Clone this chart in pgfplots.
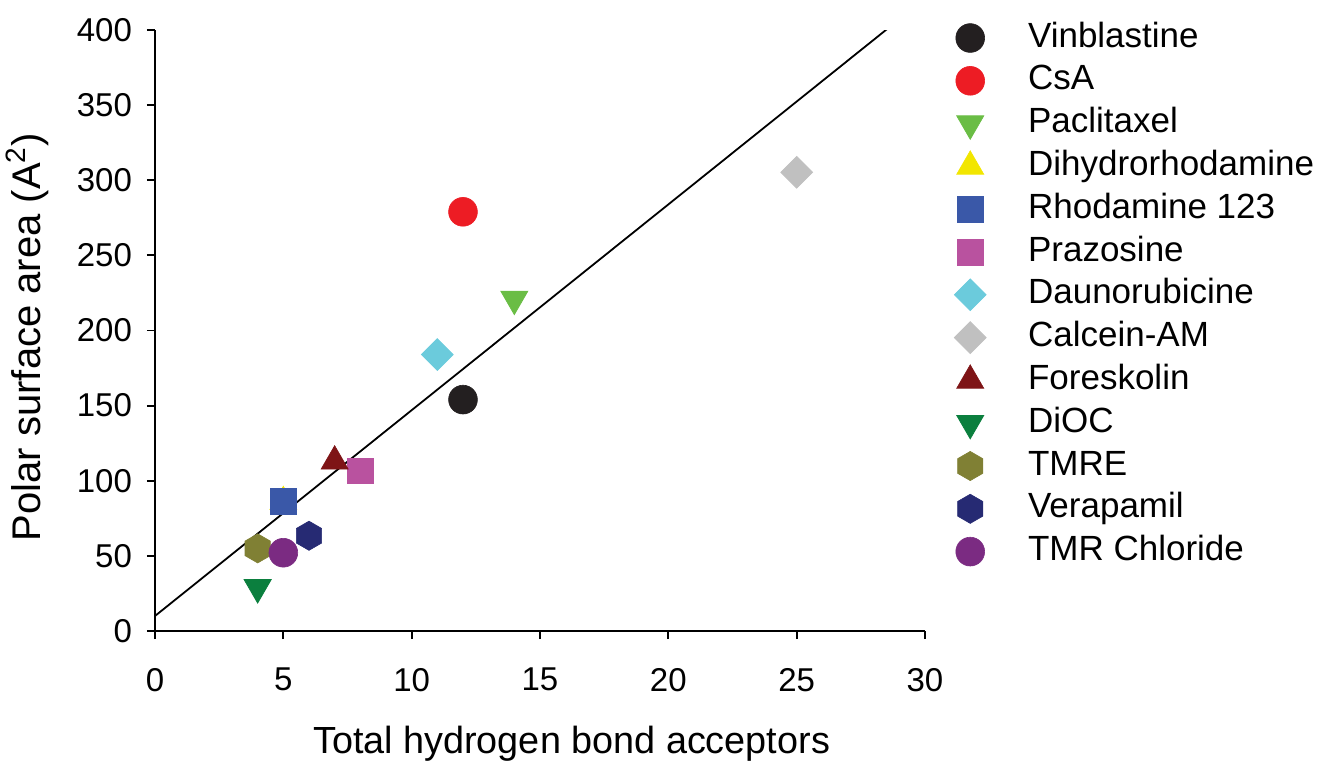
\documentclass[border=0pt]{standalone}
\usepackage{fontspec}
\setmainfont{Liberation Sans}
\usepackage{pgfplots}
\pgfplotsset{compat=1.18}
\usetikzlibrary{plotmarks}

% pointy-top hexagon mark
\pgfdeclareplotmark{hexagon*}{%
  \pgfpathmoveto{\pgfpointpolar{90}{\pgfplotmarksize}}%
  \pgfpathlineto{\pgfpointpolar{150}{\pgfplotmarksize}}%
  \pgfpathlineto{\pgfpointpolar{210}{\pgfplotmarksize}}%
  \pgfpathlineto{\pgfpointpolar{270}{\pgfplotmarksize}}%
  \pgfpathlineto{\pgfpointpolar{330}{\pgfplotmarksize}}%
  \pgfpathlineto{\pgfpointpolar{30}{\pgfplotmarksize}}%
  \pgfpathclose
  \pgfusepathqfillstroke}

\definecolor{cVin}{HTML}{231F20}
\definecolor{cCsA}{HTML}{ED1C24}
\definecolor{cPac}{HTML}{6ABD45}
\definecolor{cDih}{HTML}{F2E600}
\definecolor{cRho}{HTML}{3A58A8}
\definecolor{cPra}{HTML}{B9529F}
\definecolor{cDau}{HTML}{6BCBDC}
\definecolor{cCal}{HTML}{C0C0C0}
\definecolor{cFor}{HTML}{7E1416}
\definecolor{cDiO}{HTML}{0B7F3E}
\definecolor{cTMRE}{HTML}{808034}
\definecolor{cVer}{HTML}{262A73}
\definecolor{cTMR}{HTML}{7B2B82}

\pgfplotsset{
  myleg/.style={legend image code/.code={%
    \draw[mark repeat=2,mark phase=2,##1] plot coordinates {(0pt,0pt)(12pt,0pt)(24pt,0pt)};}},
  pt/.style 2 args={only marks, myleg, mark=#1, color=#2,
    mark options={solid, fill=#2, draw=#2, line width=0.3pt, rounded corners=1.2pt}},
}

\begin{document}
\begin{tikzpicture}
\path[use as bounding box] (-77.5pt,-65.5pt) rectangle (582pt,315.5pt);
\begin{axis}[
  at={(0pt,0pt)}, anchor=south west,
  width=385pt, height=300.5pt, scale only axis,
  xmin=0, xmax=30, ymin=0, ymax=400,
  axis lines=left,
  axis line style={-, line width=0.9pt},
  xtick={0,5,...,30}, ytick={0,50,...,400},
  tick align=outside, major tick length=4pt,
  tick style={black, line width=0.9pt},
  /pgf/number format/assume math mode=true,
  ticklabel style={font=\fontsize{16.5}{19}\selectfont},
  xticklabel style={yshift=-11pt},
  yticklabel style={xshift=-4pt},
  xlabel={Total hydrogen bond acceptors},
  ylabel={Polar surface area (A\textsuperscript{2})},
  xlabel style={font=\fontsize{18.9}{22}\selectfont, at={(axis description cs:0.541,-0.188)}, anchor=center},
  ylabel style={font=\fontsize{20}{24}\selectfont, at={(axis description cs:-0.166,0.489)}, anchor=center},
  legend style={at={(axis description cs:1,1)}, anchor=north west,
    xshift=14.5pt, yshift=4.7pt, draw=none, fill=none, inner sep=0pt,
    row sep=4.4pt, column sep=21pt,
    font=\fontsize{17.5}{21}\selectfont,
    nodes={inner sep=0pt, text height=13pt, text depth=4pt}},
  legend cell align=left,
]
\addplot[black, line width=0.9pt, forget plot] coordinates {(0,10) (28.55,401)};

\addplot[pt={*}{cVin}, mark size=7.2pt] coordinates {(12,154)};
\addlegendentry{Vinblastine}
\addplot[pt={*}{cCsA}, mark size=7.2pt] coordinates {(12,279)};
\addlegendentry{CsA}
\addplot[pt={triangle*}{cPac}, mark size=7.8pt, mark options={rotate=180}] coordinates {(14,221)};
\addlegendentry{Paclitaxel}
\addplot[pt={triangle*}{cDih}, mark size=7.8pt] coordinates {(5,86)};
\addlegendentry{Dihydrorhodamine}
\addplot[pt={square*}{cRho}, mark size=6.4pt] coordinates {(5,86.5)};
\addlegendentry{Rhodamine 123}
\addplot[pt={square*}{cPra}, mark size=6.4pt] coordinates {(8,106.7)};
\addlegendentry{Prazosine}
\addplot[pt={square*}{cDau}, mark size=5.6pt, mark options={rotate=45}] coordinates {(11,184)};
\addlegendentry{Daunorubicine}
\addplot[pt={square*}{cCal}, mark size=5.6pt, mark options={rotate=45}] coordinates {(25,305.3)};
\addlegendentry{Calcein-AM}
\addplot[pt={triangle*}{cFor}, mark size=7.8pt] coordinates {(7,113)};
\addlegendentry{Foreskolin}
\addplot[pt={triangle*}{cDiO}, mark size=7.8pt, mark options={rotate=180}] coordinates {(4,29)};
\addlegendentry{DiOC}
\addplot[pt={hexagon*}{cTMRE}, mark size=7.3pt] coordinates {(4,55)};
\addlegendentry{TMRE}
\addplot[pt={hexagon*}{cVer}, mark size=7.3pt] coordinates {(6,63.4)};
\addlegendentry{Verapamil}
\addplot[pt={*}{cTMR}, mark size=7.2pt] coordinates {(5,52.1)};
\addlegendentry{TMR Chloride}
\end{axis}
\end{tikzpicture}
\end{document}
